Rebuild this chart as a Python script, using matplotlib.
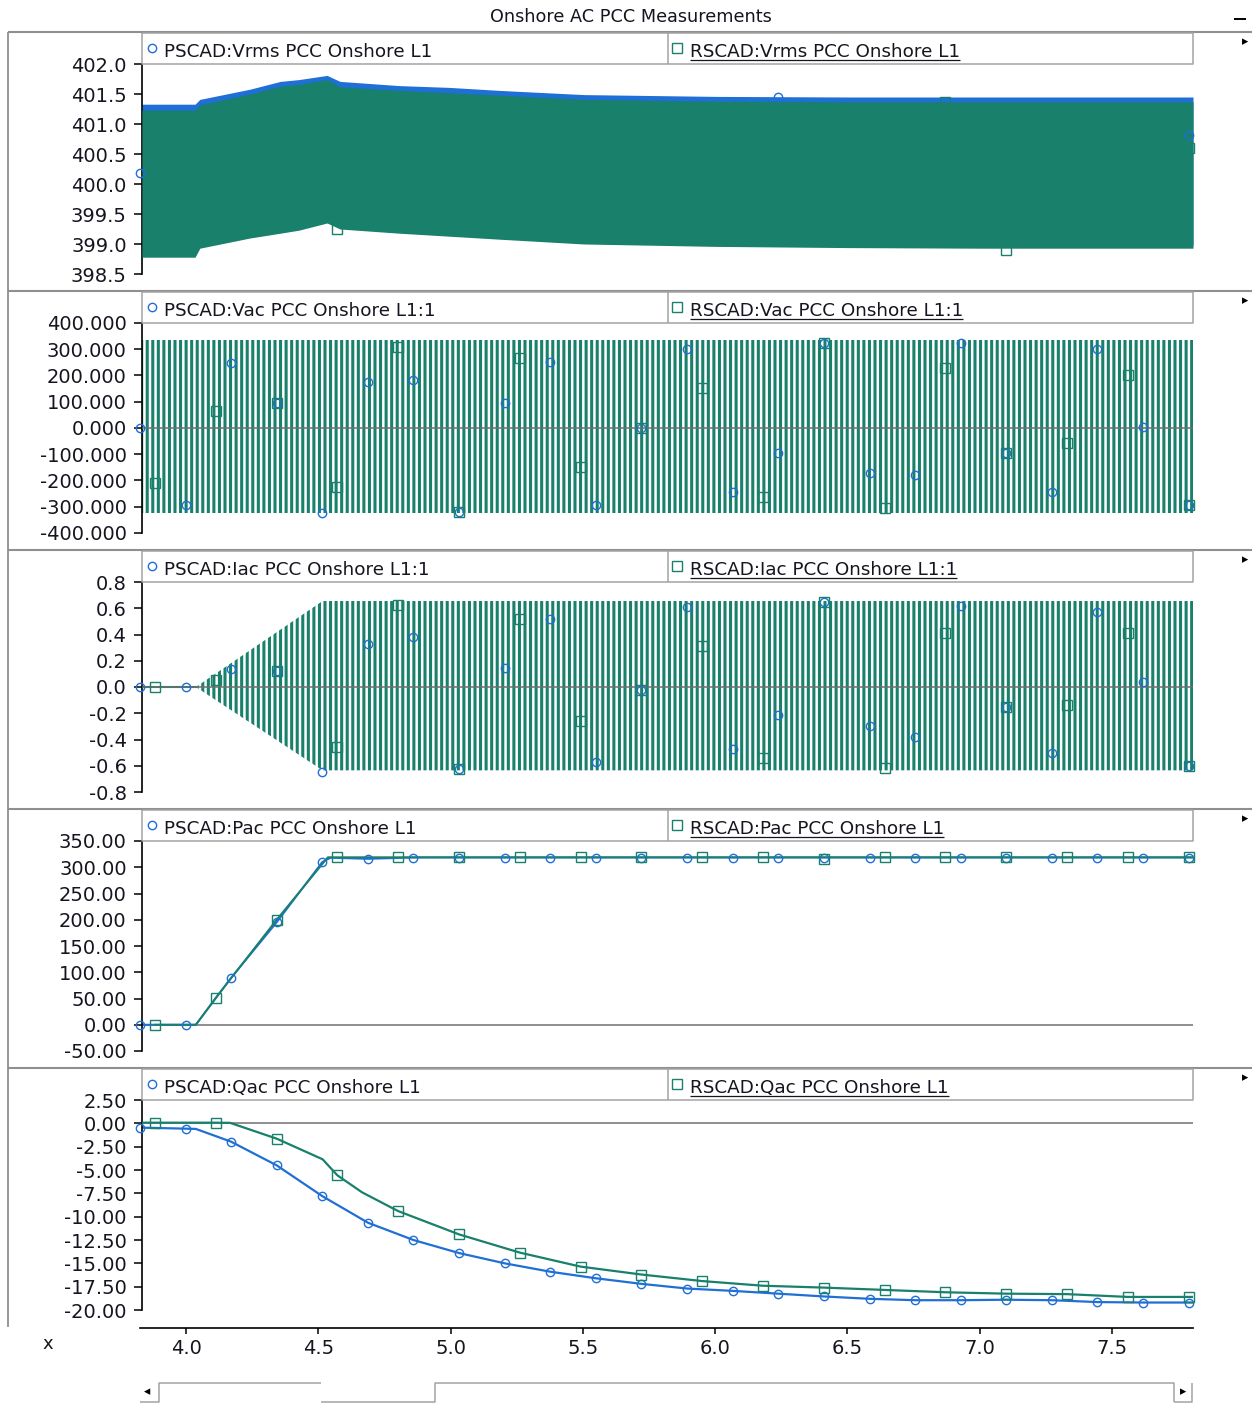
import numpy as np
import matplotlib
matplotlib.use("Agg")
import matplotlib.pyplot as plt
from matplotlib.lines import Line2D

# ============== Données ====================================
x_range = [3.826, 7.807]
x_ticks = [4.0, 4.5, 5.0, 5.5, 6.0, 6.5, 7.0, 7.5]
x_tick_labels = ["4.0", "4.5", "5.0", "5.5", "6.0", "6.5", "7.0", "7.5"]

signal_names = ["Vrms PCC Onshore L1", "Vac PCC Onshore L1:1", "Iac PCC Onshore L1:1",
                "Pac PCC Onshore L1", "Qac PCC Onshore L1"]

vrms_ticks = [398.5, 399.0, 399.5, 400.0, 400.5, 401.0, 401.5, 402.0]
vrms_tick_labels = ["398.5", "399.0", "399.5", "400.0", "400.5", "401.0", "401.5", "402.0"]
vac_ticks = [-400, -300, -200, -100, 0, 100, 200, 300, 400]
vac_tick_labels = ["-400.000", "-300.000", "-200.000", "-100.000", "0.000",
                   "100.000", "200.000", "300.000", "400.000"]
iac_ticks = [-0.8, -0.6, -0.4, -0.2, 0.0, 0.2, 0.4, 0.6, 0.8]
iac_tick_labels = ["-0.8", "-0.6", "-0.4", "-0.2", "0.0", "0.2", "0.4", "0.6", "0.8"]
pac_ticks = [-50, 0, 50, 100, 150, 200, 250, 300, 350]
pac_tick_labels = ["-50.00", "0.00", "50.00", "100.00", "150.00", "200.00",
                   "250.00", "300.00", "350.00"]
qac_ticks = [-20, -17.5, -15, -12.5, -10, -7.5, -5, -2.5, 0, 2.5]
qac_tick_labels = ["-20.00", "-17.50", "-15.00", "-12.50", "-10.00", "-7.50",
                   "-5.00", "-2.50", "0.00", "2.50"]

# temps des marqueurs (PSCAD = cercles, RSCAD = carrés)
pscad_mark_t = [3.818, 3.991, 4.163, 4.336, 4.509, 4.682, 4.854, 5.027, 5.2, 5.373,
                5.545, 5.718, 5.891, 6.063, 6.236, 6.409, 6.582, 6.754, 6.927, 7.1,
                7.273, 7.445, 7.618, 7.791]
rscad_mark_t = [3.875, 4.105, 4.336, 4.566, 4.796, 5.027, 5.257, 5.487, 5.718, 5.948,
                6.178, 6.409, 6.639, 6.869, 7.1, 7.33, 7.56, 7.79]

# Vrms : enveloppe de la bande (ondulation rapide)
vrms_t = [3.826, 4.027, 4.045, 4.235, 4.35, 4.42, 4.527, 4.576, 4.80, 4.99, 5.18,
          5.5, 6.0, 6.5, 7.0, 7.5, 7.807]
vrms_pscad_top = [401.33, 401.33, 401.41, 401.58, 401.71, 401.74, 401.81, 401.71, 401.64,
                  401.61, 401.56, 401.49, 401.46, 401.45, 401.45, 401.45, 401.45]
vrms_pscad_bot = [398.85, 398.85, 399.00, 399.15, 399.23, 399.28, 399.40, 399.30, 399.23,
                  399.18, 399.13, 399.05, 399.01, 398.99, 398.98, 398.98, 398.98]
vrms_rscad_top = [401.23, 401.23, 401.32, 401.50, 401.63, 401.66, 401.74, 401.62, 401.56,
                  401.52, 401.48, 401.41, 401.38, 401.37, 401.37, 401.37, 401.37]
vrms_rscad_bot = [398.78, 398.78, 398.93, 399.10, 399.18, 399.23, 399.35, 399.25, 399.18,
                  399.13, 399.08, 399.00, 398.96, 398.94, 398.93, 398.93, 398.93]
vrms_pscad_mark_t = [3.818, 6.236, 7.791]
vrms_pscad_mark = [400.18, 401.45, 400.82]
vrms_rscad_mark_t = [4.566, 6.869, 7.1, 7.79]
vrms_rscad_mark = [399.25, 401.37, 398.9, 400.6]

# Vac : enveloppe 50 Hz
vac_t = [3.826, 7.807]
vac_top = [335, 335]
vac_bot = [-325, -325]
vac_pscad_mark = [1, -293, 246, 94, -323, 176, 183, -319, 94, 253, -293, -1, 300, -243,
                  -95, 325, -173, -179, 325, -97, -243, 300, 2, -293]
vac_rscad_mark = [-208, 66, 94, -224, 310, -319, 265, -147, -1, 151, -262, 325, -306,
                  227, -97, -56, 202, -293]

# Iac : enveloppe 50 Hz
iac_t = [3.826, 4.03, 4.51, 7.807]
iac_top = [0.0, 0.0, 0.655, 0.655]
iac_bot = [0.0, 0.0, -0.635, -0.635]
iac_pscad_mark = [0.0, 0.0, 0.14, 0.12, -0.645, 0.325, 0.38, -0.627, 0.147, 0.52, -0.57,
                  -0.02, 0.61, -0.47, -0.21, 0.65, -0.30, -0.38, 0.62, -0.155, -0.505,
                  0.57, 0.04, -0.60]
iac_rscad_mark = [0.0, 0.05, 0.12, -0.455, 0.625, -0.627, 0.52, -0.26, -0.02, 0.31,
                  -0.54, 0.65, -0.62, 0.41, -0.155, -0.137, 0.41, -0.60]

# Pac
pac_pscad_t = [3.818, 4.03, 4.163, 4.336, 4.509, 4.54, 4.682, 4.854, 7.807]
pac_pscad = [0, 0, 89, 195, 310, 318, 316, 318.5, 318.5]
pac_rscad_t = [3.875, 4.03, 4.105, 4.336, 4.53, 7.807]
pac_rscad = [0, 0, 51, 200, 319, 319]
pac_pscad_mark = [0, 0, 89, 195, 310, 316, 318.5, 318.5, 318.5, 318.5, 318.5, 318.5,
                  318.5, 318.5, 318.5, 318.5, 318.5, 318.5, 318.5, 318.5, 318.5, 318.5,
                  318.5, 318.5]
pac_rscad_mark = [0, 51, 200, 319, 319, 319, 319, 319, 319, 319, 319, 315, 319, 319,
                  319, 319, 319, 319]

# Qac
qac_pscad_t = [3.818, 3.991, 4.03, 4.163, 4.336, 4.509, 4.682, 4.854, 5.027, 5.2, 5.373,
               5.545, 5.718, 5.891, 6.063, 6.236, 6.409, 6.582, 6.754, 6.927, 7.1,
               7.273, 7.445, 7.618, 7.807]
qac_pscad = [-0.46, -0.57, -0.6, -1.96, -4.5, -7.8, -10.65, -12.5, -13.9, -15.0, -15.9,
             -16.6, -17.2, -17.7, -17.95, -18.25, -18.55, -18.8, -18.95, -18.95, -18.9,
             -18.95, -19.15, -19.2, -19.2]
qac_rscad_t = [3.826, 3.875, 4.105, 4.16, 4.336, 4.51, 4.566, 4.66, 4.796, 5.027, 5.257,
               5.487, 5.718, 5.948, 6.178, 6.409, 6.639, 6.869, 7.1, 7.33, 7.56, 7.807]
qac_rscad = [0.07, 0.07, 0.07, 0.05, -1.64, -3.85, -5.57, -7.4, -9.4, -11.9, -13.85,
             -15.35, -16.2, -16.9, -17.4, -17.6, -17.85, -18.1, -18.25, -18.3, -18.6, -18.6]
qac_pscad_mark = [-0.46, -0.57, -1.96, -4.5, -7.8, -10.65, -12.5, -13.9, -15.0, -15.9,
                  -16.6, -17.2, -17.7, -17.95, -18.25, -18.55, -18.8, -18.95, -18.95,
                  -18.9, -18.95, -19.15, -19.2, -19.2]
qac_rscad_mark = [0.07, 0.07, -1.64, -5.57, -9.4, -11.9, -13.85, -15.35, -16.2, -16.9,
                  -17.4, -17.6, -17.85, -18.1, -18.25, -18.3, -18.6, -18.6]

# ============== Style ===================
W, H = 1252, 1403
GREEN = "#18806b"
BLUE = "#1f6fd6"
BORDER = "#8f8f8f"
LEG_GRAY = "#a3a3a3"
ZERO_GRAY = "#707070"
TXT = "#15151f"

plt.rcParams["font.family"] = ["DejaVu Sans"]
# rayures verticales denses (une par période 50 Hz environ)
plt.rcParams["hatch.linewidth"] = 2.2

fig = plt.figure(figsize=(W / 100, H / 100), dpi=100)


def px_box(l, t, r, b):
    # boîte en pixels (origine en haut à gauche) -> fraction de figure
    return [l / W, 1 - b / H, (r - l) / W, (b - t) / H]


def fig_line(xs, ys, color=BORDER, lw=1.1, **kw):
    fig.add_artist(Line2D([x / W for x in xs], [1 - y / H for y in ys],
                          color=color, lw=lw, solid_capstyle="butt", **kw))


def fig_text(x, y, s, **kw):
    return fig.text(x / W, 1 - y / H, s, **kw)


def add_markers(ax, tp, vp, tr, vr):
    ax.plot(tp, vp, ls="none", marker="o", ms=6, mfc="none", mec=BLUE, mew=1.0,
            clip_on=False, zorder=5)
    ax.plot(tr, vr, ls="none", marker="s", ms=6.6, mfc="none", mec=GREEN, mew=1.0,
            clip_on=False, zorder=5)


# ============== Cadre général ===================
fig_text(631, 17, "Onshore AC PCC Measurements", ha="center", va="center",
         fontsize=12.7, color=TXT)
fig_line([1234, 1246], [19, 19], color="black", lw=1.4)
fig_line([8, 8], [32, 1327], color=BORDER, lw=1.3)

panel_tops = [32, 291, 550, 809, 1068]
tick_sets = [(vrms_ticks, vrms_tick_labels), (vac_ticks, vac_tick_labels),
             (iac_ticks, iac_tick_labels), (pac_ticks, pac_tick_labels),
             (qac_ticks, qac_tick_labels)]

underlined = []
axes = []
for i, ptop in enumerate(panel_tops):
    fig_line([8, 1252], [ptop, ptop], color=BORDER, lw=1.5)

    ticks, labels = tick_sets[i]
    ax = fig.add_axes(px_box(142, ptop + 32, 1193, ptop + 256))
    v_bot, v_top = ticks[0], ticks[-1]
    ax.set_ylim(v_bot - (v_top - v_bot) * 14 / 210, v_top)
    ax.set_xlim(x_range)
    ax.patch.set_alpha(0)
    for s in ["top", "right", "bottom"]:
        ax.spines[s].set_visible(False)
    ax.spines["left"].set_bounds(v_bot, v_top)
    ax.spines["left"].set_linewidth(1.2)
    ax.set_xticks([])
    ax.set_yticks(ticks, labels)
    ax.tick_params(axis="y", length=6, width=1.1, pad=5, labelsize=14, labelcolor=TXT)
    axes.append(ax)

    # bandeau légende
    fig_line([142, 1193, 1193, 142, 142], [ptop + 1, ptop + 1, ptop + 32, ptop + 32, ptop + 1],
             color=LEG_GRAY, lw=1.1)
    fig_line([668, 668], [ptop + 1, ptop + 32], color=LEG_GRAY, lw=1.1)
    fig.add_artist(Line2D([152 / W], [1 - (ptop + 16) / H], marker="o", ms=6, mfc="none",
                          mec=BLUE, mew=1.0))
    fig.add_artist(Line2D([677 / W], [1 - (ptop + 16) / H], marker="s", ms=6.5, mfc="none",
                          mec=GREEN, mew=1.0))
    fig_text(164, ptop + 25, "PSCAD:" + signal_names[i], fontsize=13.2, va="baseline",
             color=TXT)
    t_r = fig_text(690, ptop + 25, "RSCAD:" + signal_names[i], fontsize=13.2,
                   va="baseline", color=TXT)
    underlined.append((t_r, ptop))
    fig_text(1245, ptop + 10, "\u25b8", fontsize=9, ha="center", va="center", color="black")

# ============== Vrms ===================
ax = axes[0]
ax.fill_between(vrms_t, vrms_pscad_bot, vrms_pscad_top, color=BLUE, lw=0, zorder=2)
ax.fill_between(vrms_t, vrms_rscad_bot, vrms_rscad_top, color=GREEN, lw=0, zorder=3)
add_markers(ax, vrms_pscad_mark_t, vrms_pscad_mark, vrms_rscad_mark_t, vrms_rscad_mark)

# ============== Vac ===================
ax = axes[1]
ax.fill_between(vac_t, vac_bot, vac_top, facecolor="none", edgecolor=GREEN, hatch="|||",
                lw=0, zorder=2)
ax.axhline(0, color=ZERO_GRAY, lw=1.1, zorder=3)
add_markers(ax, pscad_mark_t, vac_pscad_mark, rscad_mark_t, vac_rscad_mark)

# ============== Iac ===================
ax = axes[2]
ax.fill_between(iac_t, iac_bot, iac_top, facecolor="none", edgecolor=GREEN, hatch="|||",
                lw=0, zorder=2)
ax.plot(iac_t[:2], iac_top[:2], color=GREEN, lw=1.5, zorder=2)
ax.axhline(0, color=ZERO_GRAY, lw=1.1, zorder=3)
add_markers(ax, pscad_mark_t, iac_pscad_mark, rscad_mark_t, iac_rscad_mark)

# ============== Pac ===================
ax = axes[3]
ax.axhline(0, color=ZERO_GRAY, lw=1.1, zorder=1)
ax.plot(pac_pscad_t, pac_pscad, color=BLUE, lw=1.4, zorder=2)
ax.plot(pac_rscad_t, pac_rscad, color=GREEN, lw=1.4, zorder=3)
add_markers(ax, pscad_mark_t, pac_pscad_mark, rscad_mark_t, pac_rscad_mark)

# ============== Qac ===================
ax = axes[4]
ax.axhline(0, color=ZERO_GRAY, lw=1.1, zorder=1)
ax.plot(qac_pscad_t, qac_pscad, color=BLUE, lw=1.6, zorder=2)
ax.plot(qac_rscad_t, qac_rscad, color=GREEN, lw=1.6, zorder=3)
add_markers(ax, pscad_mark_t, qac_pscad_mark, rscad_mark_t, qac_rscad_mark)

# ============== Axe des x commun ===================
axx = fig.add_axes(px_box(140, 1300, 1193, 1328))
axx.patch.set_alpha(0)
axx.set_xlim(x_range)
for s in ["top", "right", "left"]:
    axx.spines[s].set_visible(False)
axx.spines["bottom"].set_linewidth(1.2)
axx.set_yticks([])
axx.set_xticks(x_ticks, x_tick_labels)
axx.tick_params(axis="x", length=4, width=1.1, pad=4, labelsize=14, labelcolor=TXT)
fig_text(48, 1344, "x", fontsize=13, ha="center", va="center", color=TXT)

# ============== Barre de défilement ===================
fig_line([140, 159, 159, 321], [1402, 1402, 1383, 1383], color=LEG_GRAY, lw=1.1)
fig_line([321, 435, 435, 1174, 1174], [1402, 1402, 1383, 1383, 1402], color=LEG_GRAY, lw=1.1)
fig_line([1174, 1192, 1192], [1402, 1402, 1383], color=LEG_GRAY, lw=1.1)
fig_text(147, 1392, "\u25c2", fontsize=9, ha="center", va="center", color="black")
fig_text(1183, 1392, "\u25b8", fontsize=9, ha="center", va="center", color="black")

# ============== Soulignement des légendes RSCAD ===================
fig.canvas.draw()
renderer = fig.canvas.get_renderer()
for t_r, ptop in underlined:
    bb = t_r.get_window_extent(renderer)
    fig_line([bb.x0, bb.x1], [ptop + 28, ptop + 28], color=TXT, lw=0.9)

fig.savefig("out.png", dpi=100)
